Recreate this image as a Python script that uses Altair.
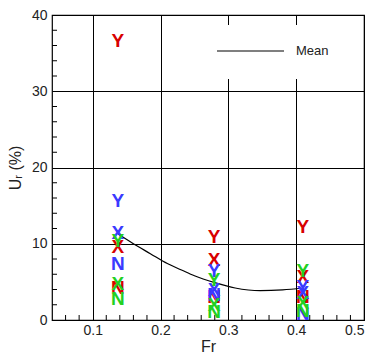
import altair as alt
import pandas as pd

# Marker data: Froude number, series colour group, letter, value (%)
fr_pts = [0.137, 0.137, 0.137, 0.137, 0.137, 0.137, 0.137, 0.137, 0.137,
          0.279, 0.279, 0.279, 0.279, 0.279, 0.279, 0.279, 0.279, 0.279,
          0.41, 0.41, 0.41, 0.41, 0.41, 0.41, 0.41, 0.41, 0.41]
group = ["red", "red", "red", "blue", "blue", "blue", "green", "green", "green"] * 3
letter = ["Y", "X", "N"] * 9
values = [36.6, 9.6, 4.2, 15.6, 11.4, 7.4, 10.3, 4.7, 2.8,
          10.9, 7.9, 3.0, 6.4, 3.9, 3.3, 5.3, 2.0, 1.1,
          12.2, 5.6, 3.0, 4.3, 3.5, 0.8, 6.4, 2.2, 1.2]
order = {"red": 0, "blue": 1, "green": 2}

# Mean curve
fr_mean = [0.137, 0.16, 0.185, 0.21, 0.23, 0.25, 0.28, 0.31, 0.347, 0.38, 0.41]
u_mean = [11.3, 10.0, 8.7, 7.4, 6.6, 5.8, 4.9, 4.2, 3.85, 3.95, 4.2]

x_ticks = [0.1, 0.2, 0.3, 0.4, 0.5]
y_ticks = [0, 10, 20, 30, 40]
x_minor = [0.06, 0.08, 0.12, 0.14, 0.16, 0.18, 0.22, 0.24, 0.26, 0.28,
           0.32, 0.34, 0.36, 0.38, 0.42, 0.44, 0.46, 0.48]
y_minor = [2, 4, 6, 8, 12, 14, 16, 18, 22, 24, 26, 28, 32, 34, 36, 38]

colors = {"red": "#d80000", "blue": "#3a3aff", "green": "#22d022"}

W, H = 312, 305
FONT = "Liberation Sans"

xs = alt.Scale(domain=[0.04, 0.5], nice=False, zero=False)
ys = alt.Scale(domain=[0, 40], nice=False, zero=False)

pts = pd.DataFrame({"Fr": fr_pts, "g": group, "L": letter, "U": values})
pts["o"] = pts["g"].map(order)
pts = pts.sort_values("o", kind="stable")
mean_df = pd.DataFrame({"Fr": fr_mean, "U": u_mean})

axis_x = alt.Axis(values=x_ticks, format=".1f", grid=True, gridColor="black",
                  gridOpacity=1, gridWidth=1, ticks=False, domain=False,
                  labelFont=FONT, labelFontSize=14, labelColor="#222",
                  labelPadding=3, title="Fr", titleFont=FONT, titleFontSize=16,
                  titleFontWeight="normal", titleColor="#222",
                  titleBaseline="alphabetic", titleY=31)
axis_y = alt.Axis(values=y_ticks, grid=True, gridColor="black", gridOpacity=1,
                  gridWidth=1, ticks=False, domain=False, labelFont=FONT,
                  labelFontSize=14, labelColor="#222", labelPadding=5,
                  title="Uᵣ (%)", titleFont=FONT, titleFontSize=16,
                  titleFontWeight="normal", titleColor="#222", titlePadding=8)

base_line = alt.Chart(mean_df).mark_line(color="black", strokeWidth=1.2,
                                         interpolate="monotone").encode(
    x=alt.X("Fr:Q", scale=xs, axis=axis_x),
    y=alt.Y("U:Q", scale=ys, axis=axis_y),
)

letters = alt.Chart(pts).mark_text(font=FONT, fontSize=19, fontWeight="bold",
                                   align="center", baseline="middle").encode(
    x=alt.X("Fr:Q", scale=xs, axis=axis_x),
    y=alt.Y("U:Q", scale=ys, axis=axis_y),
    text="L:N",
    color=alt.Color("g:N", scale=alt.Scale(domain=list(colors.keys()),
                                           range=list(colors.values())),
                    legend=None),
    order=alt.Order("o:Q"),
)

xminor = alt.Chart(pd.DataFrame({"Fr": x_minor})).mark_rule(
    color="black", strokeWidth=1).encode(
    x=alt.X("Fr:Q", scale=xs, axis=axis_x),
    y=alt.value(H), y2=alt.value(H - 5))

yminor = alt.Chart(pd.DataFrame({"U": y_minor})).mark_rule(
    color="black", strokeWidth=1).encode(
    y=alt.Y("U:Q", scale=ys, axis=axis_y),
    x=alt.value(0), x2=alt.value(5))

legend_box = alt.Chart(pd.DataFrame({"a": [0]})).mark_rect(
    color="white").encode(
    x=alt.value(153), x2=alt.value(303), y=alt.value(10), y2=alt.value(64))
legend_line = alt.Chart(pd.DataFrame({"a": [0]})).mark_rule(
    color="black", strokeWidth=1.2).encode(
    x=alt.value(165), x2=alt.value(232), y=alt.value(36))
legend_text = alt.Chart(pd.DataFrame({"a": [0]})).mark_text(
    font=FONT, fontSize=13, align="left", baseline="middle", color="#222").encode(
    x=alt.value(244), y=alt.value(36), text=alt.value("Mean"))

chart = alt.layer(base_line, legend_box, legend_line, legend_text,
                  xminor, yminor, letters).properties(
    width=W, height=H,
    autosize=alt.AutoSizeParams(type="none"),
    padding={"left": 44, "top": 7, "right": 6, "bottom": 33},
).configure(background="white").configure_view(stroke="black", strokeWidth=1.2)

chart.save("out.html", embed_options={"renderer": "svg", "actions": False})
